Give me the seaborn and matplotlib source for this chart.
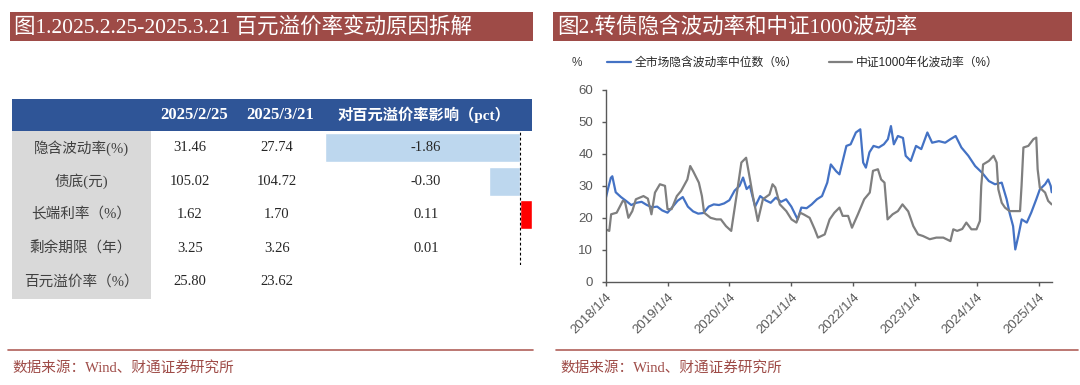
import matplotlib
matplotlib.use("Agg")
import matplotlib.pyplot as plt
from matplotlib.patches import Rectangle
from matplotlib.lines import Line2D
import seaborn as sns
import pandas as pd

W, H = 1080, 385

title_left = "图1.2025.2.25-2025.3.21 百元溢价率变动原因拆解"
title_right = "图2.转债隐含波动率和中证1000波动率"
source_text = "数据来源：Wind、财通证券研究所"

# table data
col_headers = ["2025/2/25", "2025/3/21", "对百元溢价率影响（pct）"]
row_labels = ["隐含波动率(%)", "债底(元)", "长端利率（%）", "剩余期限（年）", "百元溢价率（%）"]
val_0225 = [31.46, 105.02, 1.62, 3.25, 25.80]
val_0321 = [27.74, 104.72, 1.70, 3.26, 23.62]
impact = [-1.86, -0.30, 0.11, 0.01]

# line chart data
series_names = ["全市场隐含波动率中位数（%）", "中证1000年化波动率（%）"]
blue_dates = [
    "2018-01-04", "2018-01-15", "2018-02-03", "2018-02-12", "2018-03-04", "2018-04-04", "2018-05-04",
    "2018-06-04", "2018-07-04", "2018-08-04", "2018-09-04", "2018-10-04", "2018-11-04", "2018-12-04",
    "2019-01-04", "2019-02-04", "2019-03-04", "2019-04-04", "2019-05-04", "2019-06-04", "2019-07-04",
    "2019-08-04", "2019-09-04", "2019-10-04", "2019-11-04", "2019-12-04", "2020-01-04", "2020-02-04",
    "2020-03-04", "2020-03-25", "2020-04-15", "2020-05-04", "2020-06-04", "2020-07-04", "2020-08-04",
    "2020-09-04", "2020-10-04", "2020-11-04", "2020-12-04", "2021-01-04", "2021-02-10", "2021-03-04",
    "2021-04-04", "2021-05-04", "2021-06-04", "2021-07-04", "2021-08-04", "2021-08-25", "2021-09-25",
    "2021-10-15", "2021-11-25", "2021-12-20", "2022-01-20", "2022-02-15", "2022-03-04", "2022-03-20",
    "2022-04-10", "2022-05-04", "2022-06-04", "2022-07-04", "2022-07-28", "2022-08-15", "2022-09-01",
    "2022-09-25", "2022-10-25", "2022-11-10", "2022-12-10", "2023-01-10", "2023-02-10", "2023-03-18",
    "2023-04-15", "2023-05-25", "2023-07-01", "2023-08-01", "2023-09-01", "2023-10-05", "2023-11-15",
    "2023-12-25", "2024-02-04", "2024-03-15", "2024-04-20", "2024-05-30", "2024-06-28", "2024-07-15",
    "2024-08-05", "2024-08-18", "2024-09-05", "2024-09-25", "2024-10-25", "2024-11-20", "2024-12-20",
    "2025-01-10", "2025-02-10", "2025-02-28", "2025-03-15", "2025-03-21",
]
blue_vals = [
    26, 28.5, 32.5, 33, 28, 26.5, 25.3,
    24, 24.7, 25, 24, 23.3, 23.5, 22.3,
    21.6, 23.5, 25.3, 26.5, 23.5, 22, 21.3,
    21.5, 23.5, 24.2, 24, 24.5, 25.5, 28.5,
    30, 32.6, 29, 30, 23.5, 26.8, 25.5,
    24.7, 26.3, 25, 25.8, 23.5, 19.5, 23.2,
    23, 24.2, 25.8, 26.8, 31, 36.7, 34.6,
    33.6, 42.5, 43, 46.7, 47.7, 37.3, 35.7,
    40.5, 42.5, 42, 43, 44.6, 48.7, 43,
    45.6, 45, 39.4, 37.8, 42.5, 41.5, 46.7,
    43.5, 44, 43.5, 44.6, 45.6, 42, 39.4,
    36.2, 34.1, 31.5, 30.5, 31, 25.8, 21.6,
    17.4, 10.1, 14.3, 19.5, 18.5, 21.6, 25.8,
    28.9, 30.5, 32, 30, 28,
]
gray_dates = [
    "2018-01-04", "2018-01-25", "2018-02-05", "2018-03-10", "2018-04-15", "2018-04-28", "2018-05-18",
    "2018-06-10", "2018-07-01", "2018-08-15", "2018-09-10", "2018-10-01", "2018-10-22", "2018-11-20",
    "2018-12-20", "2019-01-04", "2019-01-28", "2019-02-28", "2019-03-25", "2019-05-01", "2019-05-18",
    "2019-06-05", "2019-07-08", "2019-07-26", "2019-08-08", "2019-09-15", "2019-10-20", "2019-11-15",
    "2019-12-15", "2020-01-15", "2020-02-15", "2020-03-15", "2020-04-12", "2020-05-05", "2020-05-22",
    "2020-06-20", "2020-07-20", "2020-08-28", "2020-09-15", "2020-10-01", "2020-10-28", "2020-12-05",
    "2021-01-05", "2021-02-03", "2021-02-25", "2021-03-20", "2021-04-22", "2021-05-22", "2021-06-10",
    "2021-07-20", "2021-08-18", "2021-09-15", "2021-10-15", "2021-11-03", "2021-12-05", "2021-12-28",
    "2022-02-01", "2022-03-10", "2022-04-12", "2022-05-01", "2022-05-30", "2022-06-18", "2022-07-08",
    "2022-07-26", "2022-08-25", "2022-09-25", "2022-10-22", "2022-11-25", "2022-12-25", "2023-01-22",
    "2023-02-20", "2023-04-01", "2023-05-10", "2023-06-20", "2023-08-01", "2023-08-18", "2023-09-10",
    "2023-10-10", "2023-11-03", "2023-12-03", "2024-01-02", "2024-01-22", "2024-01-30", "2024-02-10",
    "2024-03-15", "2024-04-12", "2024-04-30", "2024-05-10", "2024-05-30", "2024-06-18", "2024-07-15",
    "2024-09-15", "2024-09-24", "2024-10-05", "2024-11-03", "2024-12-03", "2024-12-20", "2024-12-28",
    "2025-01-10", "2025-02-10", "2025-02-28", "2025-03-21",
]
gray_vals = [
    16.4, 15.9, 21.1, 21.6, 25.3, 25.0, 20.0,
    22.1, 25.8, 26.8, 26.0, 21.1, 27.9, 30.5,
    30.0, 22.7, 22.7, 26.8, 28.4, 32.0, 36.2,
    34.5, 31.0, 26.8, 21.6, 20.0, 19.5, 19.5,
    17.4, 15.9, 26.8, 37.3, 38.8, 32.0, 26.8,
    19.0, 25.8, 27.3, 30.5, 29.5, 24.2, 22.1,
    19.5, 18.5, 21.6, 21.0, 20.0, 16.4, 13.8,
    14.8, 19.5, 21.6, 23.2, 20.6, 20.6, 16.9,
    21.1, 25.8, 27.9, 34.7, 35.2, 32.0, 31.0,
    19.5, 21.1, 22.1, 24.2, 22.0, 17.4, 14.8,
    14.3, 13.3, 13.8, 13.8, 12.7, 16.4, 15.9,
    16.5, 18.5, 16.4, 16.4, 19.0, 30.0, 36.7,
    37.8, 39.4, 37.3, 28.9, 24.7, 23.2, 22.1,
    22.1, 30.0, 42.0, 42.5, 44.6, 45.1, 35.2,
    29.4, 27.9, 25.3, 24.2,
]
year_ticks = ["2018-01-04", "2019-01-04", "2020-01-04", "2021-01-04",
              "2022-01-04", "2023-01-04", "2024-01-04", "2025-01-04"]

RED_BAR = "#9E4B47"
NAVY = "#2F5597"
LIGHT_BLUE = "#BDD7EE"
BLUE = "#4472C4"
GRAY = "#7F7F7F"
SERIF = ["Liberation Serif", "Noto Sans CJK SC"]
SANS = ["Liberation Sans", "Noto Sans CJK SC"]

sns.set_theme(style="white")
plt.rcParams["font.family"] = SERIF


def px_rect(x0, y0, x1, y1):
    return [x0 / W, 1 - y1 / H, (x1 - x0) / W, (y1 - y0) / H]


fig = plt.figure(figsize=(W / 100, H / 100), dpi=100)

# title bars
for x0, x1, txt in [(10, 533, title_left), (553, 1072, title_right)]:
    fig.add_artist(Rectangle((x0 / W, 1 - 41 / H), (x1 - x0) / W, 29 / H,
                             transform=fig.transFigure, color=RED_BAR, lw=0))
    fig.text((x0 + 4) / W, 1 - 27 / H, txt, color="white", fontsize=15.5,
             va="center", ha="left", family=SERIF)

# footers
for x0, x1 in [(8, 533), (556, 1078)]:
    fig.add_artist(Line2D([x0 / W, x1 / W], [1 - 350 / H] * 2, color="#B0605A", lw=1.2))
    fig.text((x0 + 4) / W, 1 - 368 / H, source_text, color="#9E4B47", fontsize=10.5,
             va="center", ha="left", family=SERIF)

# ---------- left: table with impact bars ----------
ax_b = fig.add_axes(px_rect(312, 131, 532, 265))
bar_df = pd.DataFrame({"factor": row_labels[:4], "impact": impact})
bar_colors = {f: (LIGHT_BLUE if v < 0 else "#FF0000") for f, v in zip(row_labels[:4], impact)}
sns.barplot(data=bar_df, x="impact", y="factor", hue="factor", palette=bar_colors,
            orient="h", width=0.87, legend=False, ax=ax_b, saturation=1)
ax_b.set_xlim(-1.981, 0.114)
ax_b.axvline(0, color="black", lw=0.8, ls=(0, (2.5, 2)))
ax_b.axis("off")

ax_t = fig.add_axes(px_rect(12, 98.6, 532, 298.6))
ax_t.set_xlim(12, 532)
ax_t.set_ylim(298.6, 98.6)
ax_t.axis("off")
ax_t.add_patch(Rectangle((12, 98.6), 520, 32.2, color=NAVY, lw=0))
ax_t.add_patch(Rectangle((12, 130.8), 139, 167.8, color="#D9D9D9", lw=0))
for xc, h in zip([194, 280, 424], col_headers):
    ax_t.text(xc, 115, h, color="white", fontsize=12 if h[0].isdigit() else 11,
              fontweight="bold", ha="center", va="center")
row_y = [131 + 33.5 * (i + 0.5) for i in range(len(row_labels))]
for i, y in enumerate(row_y):
    ax_t.text(81, y, row_labels[i], color="#404040", fontsize=10.5, ha="center", va="center")
    ax_t.text(190, y, f"{val_0225[i]:.2f}", color="#262626", fontsize=10.5, ha="center", va="center")
    ax_t.text(277, y, f"{val_0321[i]:.2f}", color="#262626", fontsize=10.5, ha="center", va="center")
    if i < len(impact):
        ax_t.text(426, y, f"{impact[i]:.2f}", color="#262626", fontsize=10.5, ha="center", va="center")

# ---------- right: volatility lines ----------
ax = fig.add_axes(px_rect(605.7, 90, 1051.7, 281.7))
blue_df = pd.DataFrame({"date": pd.to_datetime(blue_dates), "v": blue_vals})
gray_df = pd.DataFrame({"date": pd.to_datetime(gray_dates), "v": gray_vals})
sns.lineplot(data=blue_df, x="date", y="v", color=BLUE, lw=1.6, ax=ax, label=series_names[0])
sns.lineplot(data=gray_df, x="date", y="v", color=GRAY, lw=1.6, ax=ax, label=series_names[1])
ax.set_xlim(pd.Timestamp("2018-01-04"), pd.Timestamp("2025-03-21"))
ax.set_ylim(0, 60)
ax.set_yticks(range(0, 61, 10))
ticks = pd.to_datetime(year_ticks)
ax.set_xticks(ticks)
ax.set_xticklabels([f"{t.year}/{t.month}/{t.day}" for t in ticks], rotation=45,
                   ha="right", rotation_mode="anchor")
ax.set_xlabel("")
ax.set_ylabel("")
for s in ["top", "right"]:
    ax.spines[s].set_visible(False)
for s in ["left", "bottom"]:
    ax.spines[s].set_color("#595959")
    ax.spines[s].set_linewidth(1.0)
ax.tick_params(axis="both", which="both", bottom=True, left=True, direction="out",
               length=3, width=1, color="#595959", labelcolor="#595959", labelsize=9.5, pad=4)
ax.tick_params(axis="y", pad=6)
for lab in ax.get_xticklabels() + ax.get_yticklabels():
    lab.set_family(SANS)
ax.get_legend().remove()
handles, labels = ax.get_legend_handles_labels()
fig.legend(handles, labels, loc="center left", bbox_to_anchor=(607 / W, 1 - 63 / H),
           ncol=2, frameon=False, handlelength=2.0, handletextpad=0.35,
           columnspacing=2.6, borderpad=0, borderaxespad=0, prop={"family": SANS, "size": 8.5})
fig.text(572 / W, 1 - 63 / H, "%", fontsize=8.5, color="#404040", va="center", family=SANS)

fig.savefig("out.png", dpi=100)
